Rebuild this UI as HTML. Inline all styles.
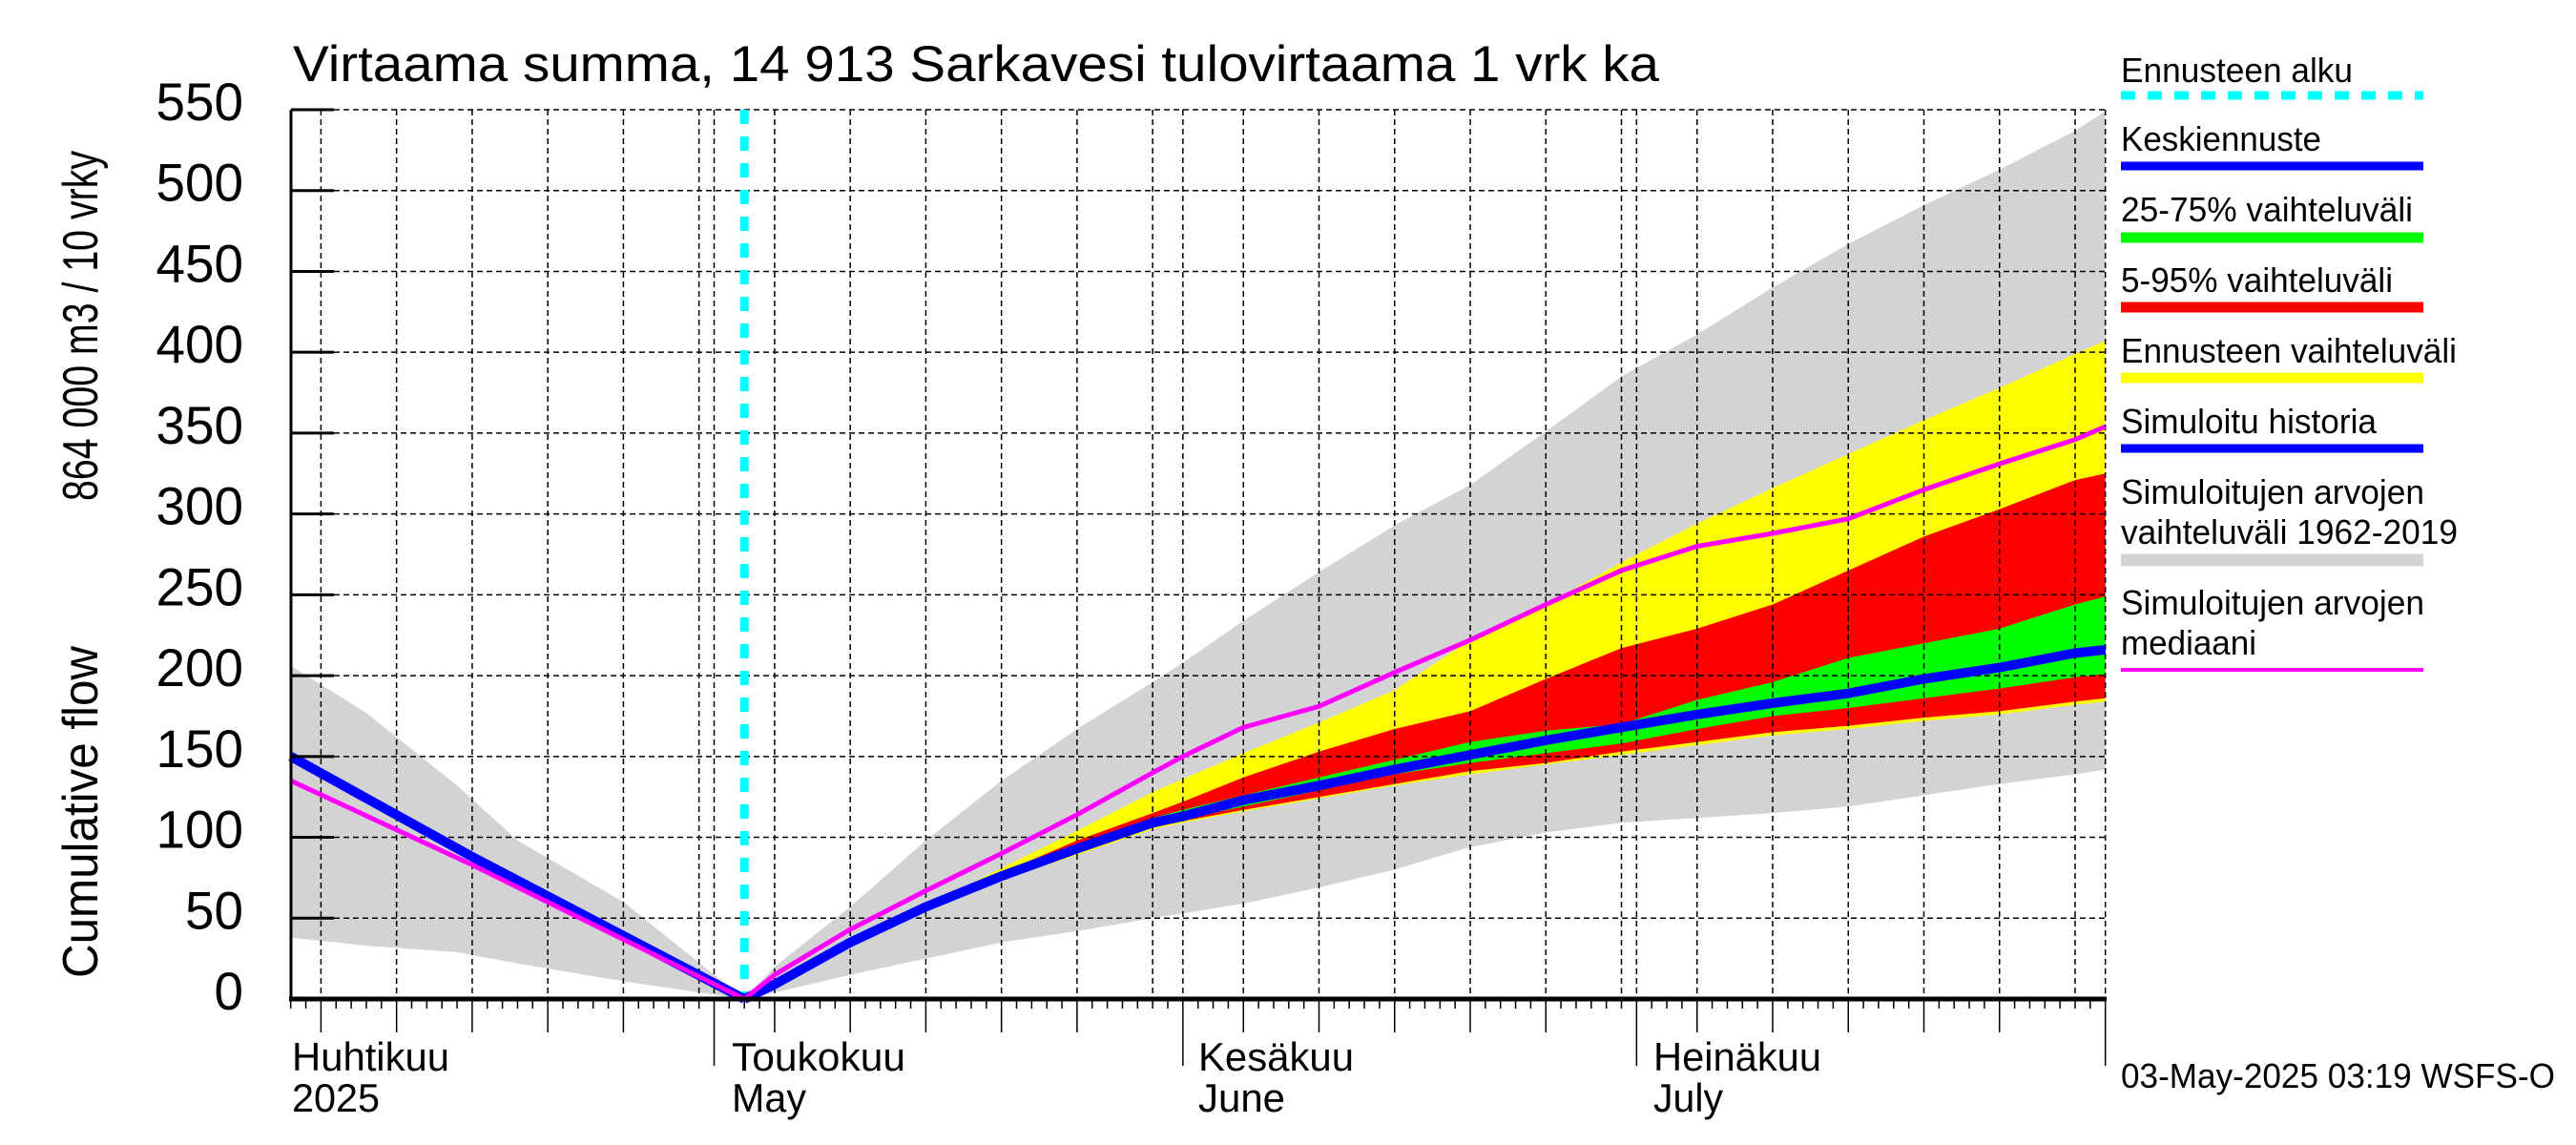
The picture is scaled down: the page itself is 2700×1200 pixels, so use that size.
<!DOCTYPE html>
<html><head><meta charset="utf-8"><style>
html,body{margin:0;padding:0;background:#fff;}
svg{display:block;font-family:"Liberation Sans",sans-serif;}
</style></head><body>
<svg id="chart" width="2700" height="1200" viewBox="0 0 2700 1200" xmlns="http://www.w3.org/2000/svg">
<rect width="2700" height="1200" fill="#fff"/>
<g id="fills"></g><g id="grid"></g><g id="lines"></g><g id="axes"></g>
<text x="307" y="85" font-size="53" textLength="1432" lengthAdjust="spacingAndGlyphs">Virtaama summa, 14 913 Sarkavesi tulovirtaama 1 vrk ka</text>
<text transform="translate(102,525) rotate(-90)" font-size="52" textLength="367" lengthAdjust="spacingAndGlyphs">864 000 m3 / 10 vrky</text>
<text transform="translate(102,1025) rotate(-90)" font-size="52" textLength="348" lengthAdjust="spacingAndGlyphs">Cumulative flow</text>
<g font-size="36">
<text x="2223" y="86" textLength="243" lengthAdjust="spacingAndGlyphs">Ennusteen alku</text>
<line x1="2223" y1="100" x2="2540" y2="100" stroke="#00ffff" stroke-width="9" stroke-dasharray="15 13"/>
<text x="2223" y="158" textLength="210" lengthAdjust="spacingAndGlyphs">Keskiennuste</text>
<line x1="2223" y1="174" x2="2540" y2="174" stroke="#0000ff" stroke-width="9"/>
<text x="2223" y="232" textLength="306" lengthAdjust="spacingAndGlyphs">25-75% vaihteluväli</text>
<line x1="2223" y1="249" x2="2540" y2="249" stroke="#00ff00" stroke-width="11"/>
<text x="2223" y="306" textLength="285" lengthAdjust="spacingAndGlyphs">5-95% vaihteluväli</text>
<line x1="2223" y1="322" x2="2540" y2="322" stroke="#ff0000" stroke-width="11"/>
<text x="2223" y="380" textLength="352" lengthAdjust="spacingAndGlyphs">Ennusteen vaihteluväli</text>
<line x1="2223" y1="396" x2="2540" y2="396" stroke="#ffff00" stroke-width="11"/>
<text x="2223" y="454" textLength="268" lengthAdjust="spacingAndGlyphs">Simuloitu historia</text>
<line x1="2223" y1="470" x2="2540" y2="470" stroke="#0000ff" stroke-width="9"/>
<text x="2223" y="528" textLength="318" lengthAdjust="spacingAndGlyphs">Simuloitujen arvojen</text>
<text x="2223" y="570" textLength="353" lengthAdjust="spacingAndGlyphs">vaihteluväli 1962-2019</text>
<line x1="2223" y1="587" x2="2540" y2="587" stroke="#d3d3d3" stroke-width="13"/>
<text x="2223" y="644" textLength="318" lengthAdjust="spacingAndGlyphs">Simuloitujen arvojen</text>
<text x="2223" y="686" textLength="142" lengthAdjust="spacingAndGlyphs">mediaani</text>
<line x1="2223" y1="702" x2="2540" y2="702" stroke="#ff00ff" stroke-width="4"/>
</g>
<text x="2223" y="1140" font-size="36" textLength="455" lengthAdjust="spacingAndGlyphs">03-May-2025 03:19 WSFS-O</text>
</svg>
<script>
// Data (days relative to 1 May 2025)
const histDays = [-28, -23, -17, -13, -6, 2];
const histGrayHi = [206, 177, 132, 98, 60, 0];
const histGrayLo = [38, 33, 29, 22, 11, 0];
const histLineDays = [-28, -16, 2];
const histBlue = [150, 88, 0];
const histMedian = [135, 83, 0];
const fcDays = [2, 4, 9, 14, 19, 24, 29, 31, 35, 40, 45, 50, 55, 60, 65, 70, 75, 80, 85, 90, 92];
const grayHi = [0, 20, 57, 98, 135, 167, 196, 208, 234, 264, 293, 318, 351, 385, 411, 440, 467, 491, 513, 537, 549];
const yelHi = [0, 9, 35, 57, 81, 104, 128, 136, 152, 171, 191, 222, 244, 270, 294, 316, 337, 358, 378, 399, 407];
const redHi = [0, 9, 35, 57, 78, 98, 115, 122, 137, 153, 167, 178, 198, 217, 229, 244, 265, 286, 303, 321, 325];
const grnHi = [0, 9, 35, 57, 77, 94, 112, 117, 126, 137, 148, 159, 166, 170, 185, 196, 211, 220, 229, 244, 249];
const meanFc = [0, 9, 35, 57, 76, 93, 109, 113, 123, 132, 142, 151, 160, 168, 176, 183, 189, 198, 205, 214, 216];
const grnLo = [0, 9, 35, 57, 75, 91, 107, 111, 119, 129, 139, 146, 152, 158, 167, 175, 180, 186, 192, 199, 201];
const redLo = [0, 9, 35, 57, 75, 90, 106, 110, 117, 125, 133, 141, 146, 153, 159, 165, 169, 174, 178, 184, 186];
const yelLo = [0, 9, 35, 56, 74, 89, 105, 109, 116, 124, 132, 139, 145, 151, 157, 163, 167, 172, 176, 182, 184];
const grayLo = [0, 4, 15, 25, 35, 42, 50, 53, 59, 69, 80, 94, 103, 109, 112, 115, 119, 126, 133, 139, 142];
const median = [0, 15, 43, 67, 90, 114, 140, 150, 168, 181, 202, 222, 244, 265, 280, 288, 297, 315, 331, 346, 354];
const yTicks = [0, 50, 100, 150, 200, 250, 300, 350, 400, 450, 500, 550];
const forecastStart = 2;

const NS = "http://www.w3.org/2000/svg";
const X0 = 748.5, PXD = 15.85, DMIN = -28, DMAX = 92;
const Y0 = 1047, PXV = 932 / 550;
const x = d => X0 + d * PXD;
const y = v => Y0 - v * PXV;
function mk(tag, parent, attrs) {
  const e = document.createElementNS(NS, tag);
  for (const k in attrs) e.setAttribute(k, attrs[k]);
  parent.appendChild(e);
  return e;
}
function pts(days, vals) { return days.map((d, i) => x(d).toFixed(1) + "," + y(vals[i]).toFixed(1)); }
function band(parent, days, hi, lo, color, name) {
  const p = pts(days, hi).concat(pts(days, lo).reverse());
  const e = mk("polygon", parent, {points: p.join(" "), fill: color});
  
  
}
const fills = document.getElementById("fills");
band(fills, histDays, histGrayHi, histGrayLo, "#d3d3d3", "historical-range-band-past");
band(fills, fcDays, grayHi, grayLo, "#d3d3d3", "historical-range-band");
band(fills, fcDays, yelHi, yelLo, "#ffff00", "forecast-range-band");
band(fills, fcDays, redHi, redLo, "#ff0000", "band-5-95");
band(fills, fcDays, grnHi, grnLo, "#00ff00", "band-25-75");

// grid
const grid = document.getElementById("grid");
yTicks.forEach(v => {
  if (v === 0) return;
  const g = mk("line", grid, {x1: 350, x2: 2207, y1: y(v), y2: y(v), stroke: "#000", "stroke-width": 1.5, "stroke-dasharray": "6 4"});
  
  
});
const monthStarts = [-30, 0, 31, 61, 92];
function dom(d) { let m = 0; for (let i = 0; i < monthStarts.length; i++) if (d >= monthStarts[i]) m = i; return d - monthStarts[m] + 1; }
for (let d = DMIN; d <= DMAX; d++) {
  const k = dom(d);
  if (k % 5 === 0 || k === 1) {
    const g = mk("line", grid, {x1: x(d), x2: x(d), y1: 115, y2: Y0, stroke: "#000", "stroke-width": 1.5, "stroke-dasharray": "6 4"});
    
    
  }
}

// lines
const lines = document.getElementById("lines");
const fsl = mk("line", lines, {x1: x(forecastStart), x2: x(forecastStart), y1: 115, y2: Y0, stroke: "#00ffff", "stroke-width": 9, "stroke-dasharray": "15 13"});


const l1 = mk("polyline", lines, {points: pts(histLineDays, histBlue).join(" "), fill: "none", stroke: "#0000ff", "stroke-width": 10});


const l2 = mk("polyline", lines, {points: pts(fcDays, meanFc).join(" "), fill: "none", stroke: "#0000ff", "stroke-width": 10});


const l3 = mk("polyline", lines, {points: pts(histLineDays, histMedian).concat(pts(fcDays.slice(1), median.slice(1))).join(" "), fill: "none", stroke: "#ff00ff", "stroke-width": 5});



// axes
const axes = document.getElementById("axes");
const ya = mk("line", axes, {x1: 305, x2: 305, y1: 115, y2: Y0 + 2, stroke: "#000", "stroke-width": 3});


const xa = mk("line", axes, {x1: 303, x2: 2208, y1: Y0, y2: Y0, stroke: "#000", "stroke-width": 5});


yTicks.forEach(v => {
  const t = mk("line", axes, {x1: 305, x2: 350, y1: y(v), y2: y(v), stroke: "#000", "stroke-width": 3});
  
  
  const s = String(v);
  const lb = mk("text", axes, {x: 255, y: y(v) + 11, "font-size": 56, "text-anchor": "end", textLength: 30.5 * s.length, lengthAdjust: "spacingAndGlyphs"});
  lb.textContent = s;
  
  
});
for (let d = DMIN; d <= DMAX; d++) {
  const k = dom(d);
  let len = 10;
  if (k === 1) len = 70; else if (k % 5 === 0 && k <= 25) len = 35;
  const t = mk("line", axes, {x1: x(d), x2: x(d), y1: Y0, y2: Y0 + len, stroke: "#000", "stroke-width": 1.5});
  
  
}
const monthLabels = [["Huhtikuu", "2025", 306, 165, 92], ["Toukokuu", "May", 767, 182, 78], ["Kesäkuu", "June", 1256, 163, 91], ["Heinäkuu", "July", 1733, 176, 73]];
monthLabels.forEach(m => {
  const a = mk("text", axes, {x: m[2], y: 1122, "font-size": 42, textLength: m[3], lengthAdjust: "spacingAndGlyphs"});
  a.textContent = m[0];
  
  
  const b = mk("text", axes, {x: m[2], y: 1165, "font-size": 42, textLength: m[4], lengthAdjust: "spacingAndGlyphs"});
  b.textContent = m[1];
  
  
});
</script>
</body></html>
